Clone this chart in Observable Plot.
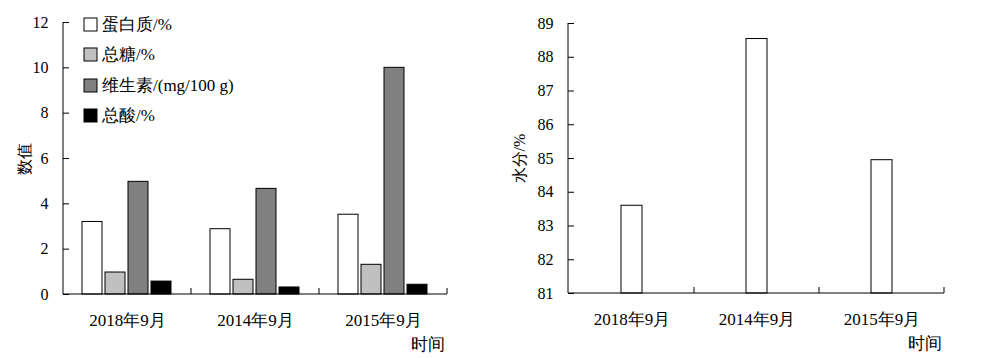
<!DOCTYPE html>
<html><head><meta charset="utf-8">
<script src="https://cdn.jsdelivr.net/npm/d3@7"></script>
<script src="https://cdn.jsdelivr.net/npm/@observablehq/plot@0.6"></script>
<style>
body{margin:0;background:#fff;}
#wrap{position:relative;width:984px;height:358px;background:#fff;}
#left,#right{position:absolute;top:0;}
#left{left:0;width:490px;height:358px;}
#right{left:490px;width:494px;height:358px;}
</style></head><body><div id="wrap"><div id="left"></div><div id="right"></div></div>
<script>
const categories = ["2018年9月", "2014年9月", "2015年9月"];
const seriesNames = ["蛋白质/%", "总糖/%", "维生素/(mg/100 g)", "总酸/%"];
const protein = [3.2, 2.88, 3.52];
const sugar = [0.97, 0.65, 1.31];
const vitamin = [4.97, 4.66, 10.0];
const acid = [0.57, 0.31, 0.43];
const moisture = [83.6, 88.54, 84.95];
const leftTicks = [0, 2, 4, 6, 8, 10, 12];
const rightTicks = [81, 82, 83, 84, 85, 86, 87, 88, 89];
const seriesColors = ["#ffffff", "#c0c0c0", "#808080", "#000000"];

const FONT = "'Liberation Serif', serif";
const seriesValues = [protein, sugar, vitamin, acid];
const rows = categories.flatMap((c, i) => seriesNames.map((s, j) => ({cat: c, series: s, value: seriesValues[j][i]})));
const moistRows = categories.map((c, i) => ({cat: c, value: moisture[i]}));

const left = Plot.plot({
  width: 447, height: 358, marginLeft: 63, marginRight: 0, marginTop: 22, marginBottom: 64,
  style: {fontFamily: FONT, fontSize: "16px", color: "black", background: "white", overflow: "visible"},
  fx: {domain: categories, padding: 0, axis: "bottom", label: "时间", labelAnchor: "right", labelOffset: 55, tickSize: 0, tickPadding: 19},
  x: {domain: seriesNames, paddingInner: 0.12, paddingOuter: 0.8, axis: null},
  y: {domain: [0, 12], ticks: leftTicks, tickSize: -6, tickPadding: 21, label: "数值", labelAnchor: "center", labelOffset: 45, labelArrow: "none"},
  color: {domain: seriesNames, range: seriesColors},
  marks: [
    Plot.barY(rows, {fx: "cat", x: "series", y: "value", fill: "series", stroke: "black", strokeWidth: 1})
  ]
});

const right = Plot.plot({
  width: 454, height: 358, marginLeft: 78, marginRight: 0, marginTop: 23, marginBottom: 65,
  style: {fontFamily: FONT, fontSize: "16px", color: "black", background: "white", overflow: "visible"},
  x: {domain: categories, paddingInner: 0.832, paddingOuter: 0.416, label: "时间", labelAnchor: "right", labelOffset: 55, tickSize: 0, tickPadding: 19},
  y: {domain: [81, 89], ticks: rightTicks, clamp: true, tickSize: -6, tickPadding: 21, label: "水分/%", labelAnchor: "center", labelOffset: 55, labelArrow: "none"},
  marks: [
    Plot.barY(moistRows, {x: "cat", y: "value", fill: "white", stroke: "black", strokeWidth: 1})
  ]
});

function decorate(chart, xName) {
  const y = chart.scale("y"), xs = chart.scale(xName);
  const yb = y.apply(y.domain[0]), yt = y.apply(y.domain[1]);
  const x0 = xs.range[0], x1 = xs.range[1];
  const centers = xs.domain.map(c => xs.apply(c) + xs.bandwidth / 2);
  const bounds = centers.map((c, i) => i < centers.length - 1 ? (c + centers[i + 1]) / 2 : x1);
  const g = d3.select(chart).append("g").attr("stroke", "black").attr("stroke-width", 1).attr("fill", "none");
  g.append("line").attr("x1", x0).attr("x2", x0).attr("y1", yt).attr("y2", yb);
  g.append("line").attr("x1", x0).attr("x2", x1).attr("y1", yb).attr("y2", yb);
  for (const b of bounds) g.append("line").attr("x1", b).attr("x2", b).attr("y1", yb).attr("y2", yb - 6);
  d3.select(chart).selectAll(`[aria-label="${xName}-axis tick label"]`).attr("font-size", 17);
  d3.select(chart).selectAll(`[aria-label="${xName}-axis label"]`).attr("font-size", 17);
}
decorate(left, "fx");
decorate(right, "x");

document.getElementById("left").appendChild(left);
document.getElementById("right").appendChild(right);

const leg = Plot.legend({color: {domain: seriesNames, range: seriesColors}, legend: "swatches", swatchSize: 13});
Object.assign(leg.style, {position: "absolute", left: "84px", top: "9px", display: "flex", flexDirection: "column",
  alignItems: "flex-start", justifyContent: "flex-start",
  fontFamily: FONT, fontSize: "17px", margin: "0", color: "black", minHeight: "0"});
for (const el of leg.children) {
  if (el.tagName === "STYLE") continue;
  Object.assign(el.style, {height: "30.5px", margin: "0", display: "flex", alignItems: "center"});
}
leg.querySelectorAll("svg").forEach(s => {
  s.style.marginRight = "5px"; s.style.overflow = "visible";
  s.querySelectorAll("rect").forEach(r => { r.setAttribute("stroke", "black"); r.setAttribute("stroke-width", "1"); });
});
document.getElementById("left").appendChild(leg);
</script>
</body></html>
